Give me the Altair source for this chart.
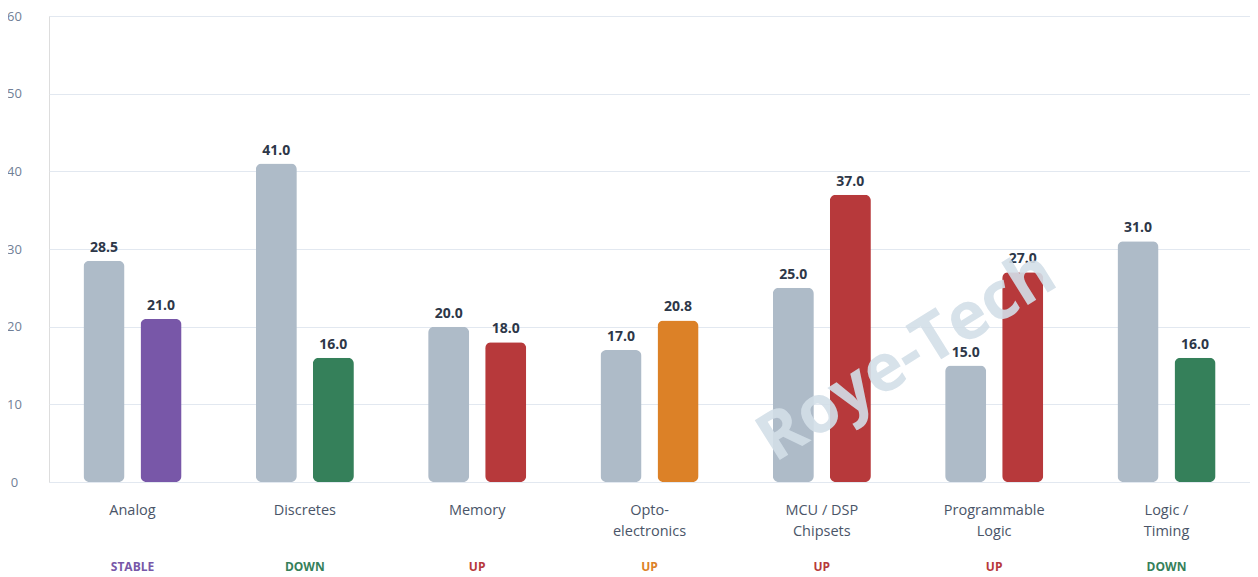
import altair as alt
import pandas as pd

categories = ["Analog", "Discretes", "Memory", "Opto-|electronics",
              "MCU / DSP|Chipsets", "Programmable|Logic", "Logic /|Timing"]
previous = [28.5, 41.0, 20.0, 17.0, 25.0, 15.0, 31.0]
current = [21.0, 16.0, 18.0, 20.8, 37.0, 27.0, 16.0]
status = ["STABLE", "DOWN", "UP", "UP", "UP", "UP", "DOWN"]
current_colors = ["#7857a8", "#35805a", "#b7393b", "#dc8127", "#b7393b", "#b7393b", "#35805a"]
grey = "#aebbc8"
y_ticks = [0, 10, 20, 30, 40, 50, 60]
watermark = "Roye-Tech"

rows = []
for c, p, v, col in zip(categories, previous, current, current_colors):
    rows.append({"cat": c, "series": "a_prev", "value": p, "fill": grey})
    rows.append({"cat": c, "series": "b_curr", "value": v, "fill": col})
df = pd.DataFrame(rows)
sdf = pd.DataFrame({"cat": categories, "status": status, "fill": current_colors})

FONT = "Open Sans"
W, H = 1201, 466

x_enc = alt.X("cat:N", sort=categories,
              scale=alt.Scale(paddingInner=0.431, paddingOuter=0.2),
              axis=alt.Axis(title=None, labelAngle=0, domain=False, ticks=False, tickSize=0,
                            labelPadding=21, labelFontSize=14.5, labelColor="#4a5568",
                            labelFont=FONT, labelLineHeight=21,
                            labelExpr="split(datum.label, '|')"))
y_enc = alt.Y("value:Q", scale=alt.Scale(domain=[0, 60]),
              axis=alt.Axis(title=None, values=y_ticks, domain=False, ticks=False, tickSize=0,
                            labelAlign="center", labelPadding=35, labelFontSize=13,
                            labelColor="#718096", labelFont=FONT,
                            gridColor="#e2e8f0", gridWidth=1.2))
xo = alt.XOffset("series:N", scale=alt.Scale(paddingInner=0.2807, paddingOuter=0))

base = alt.Chart(df)
bars = base.mark_bar(cornerRadius=6).encode(
    x=x_enc, y=y_enc, xOffset=xo, fill=alt.Fill("fill:N", scale=None))
labels = base.mark_text(baseline="bottom", dy=-6, fontSize=14, fontWeight="bold",
                        color="#2d3748", font=FONT).encode(
    x=alt.X("cat:N", sort=categories), y="value:Q", xOffset=xo,
    text=alt.Text("value:Q", format=".1f"))
stat = alt.Chart(sdf).mark_text(fontSize=12, fontWeight="bold", font=FONT,
                                baseline="middle").encode(
    x=alt.X("cat:N", sort=categories), y=alt.value(H + 85),
    text="status:N", color=alt.Color("fill:N", scale=None))
wm = alt.Chart(pd.DataFrame({"t": [watermark]})).mark_text(
    fontSize=66, fontWeight="bold", font=FONT, angle=328, color="#d3dfe8",
    opacity=0.9, align="center", baseline="middle").encode(
    x=alt.value(858), y=alt.value(341), text="t:N")

chart = alt.layer(bars, labels, stat, wm).properties(
    width=W, height=H,
    autosize=alt.AutoSizeParams(type="none"),
    padding={"left": 41, "top": 8, "right": 0, "bottom": 95},
).configure_view(stroke=None).configure(background="white")

chart.save("out.html", embed_options={"renderer": "svg", "actions": False})
